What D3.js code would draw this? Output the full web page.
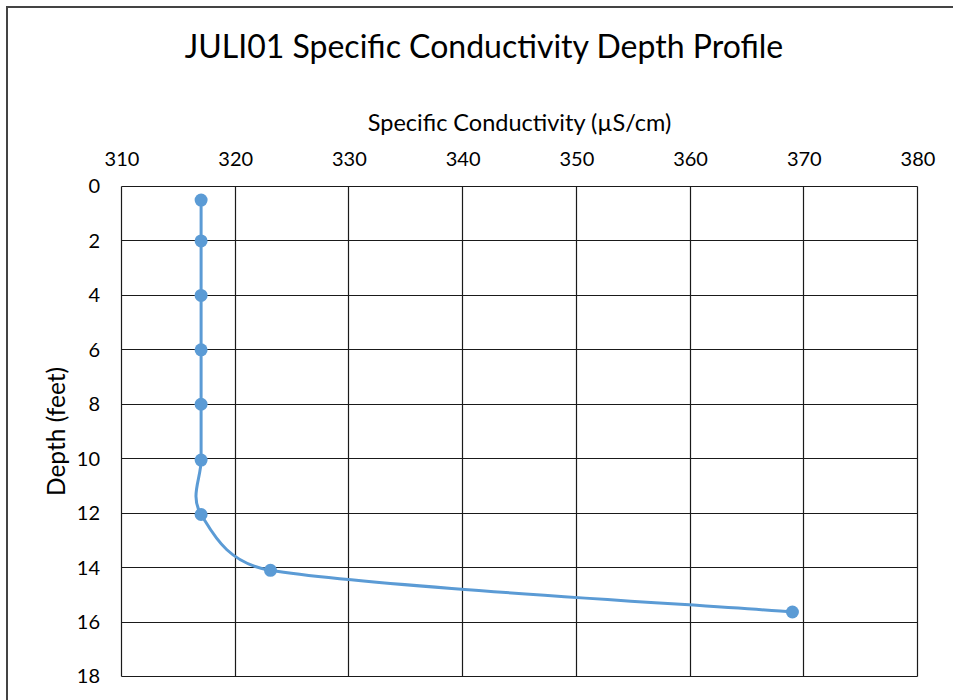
<!DOCTYPE html>
<html>
<head>
<meta charset="utf-8">
<script src="https://cdn.jsdelivr.net/npm/d3@7"></script>
<style>
  body { margin: 0; background: #fff; }
  svg { display: block; font-family: Lato, "Open Sans", sans-serif; }
  .chart-title { font-size: 32px; fill: #000; }
  .axis-title { font-size: 23.5px; fill: #000; }
  .tick-label { font-size: 20px; fill: #000; }
</style>
</head>
<body>
<div id="chart"></div>
<script>
(function () {

  // data
  const conductivity = [317, 317, 317, 317, 317, 317, 317, 323.1, 369];
  const depth = [0.5, 2, 4, 6, 8, 10.05, 12.05, 14.1, 15.63];
  const xTicks = [310, 320, 330, 340, 350, 360, 370, 380];
  const yTicks = [0, 2, 4, 6, 8, 10, 12, 14, 16, 18];

  const chartTitle = "JULI01 Specific Conductivity Depth Profile";
  const xTitle = "Specific Conductivity (µS/cm)";
  const yTitle = "Depth (feet)";

  // chart settings
  const svg_width = 953;
  const svg_height = 700;
  const margin = { top: 186.5, left: 121.5 },
    width = 796,
    height = 490;
  const blue = "#5b9bd5";

  const x = d3.scaleLinear().domain([310, 380]).range([0, width]);
  const y = d3.scaleLinear().domain([0, 18]).range([0, height]);

  const points = conductivity.map((c, i) => ({ c: c, d: depth[i] }));

  const root = d3.select("#chart").append("svg")
    .attr("width", svg_width)
    .attr("height", svg_height);

  // outer chart frame (cropped at right and bottom)
  root.append("rect")
    .attr("x", 7).attr("y", 7)
    .attr("width", 1000).attr("height", 1000)
    .attr("fill", "none")
    .attr("stroke", "#444")
    .attr("stroke-width", 2);

  root.append("text")
    .attr("class", "chart-title")
    .attr("x", 484).attr("y", 58)
    .attr("text-anchor", "middle")
    .text(chartTitle);

  const svg = root.append("g")
    .attr("transform", "translate(" + margin.left + "," + margin.top + ")");

  // gridlines
  svg.selectAll(".vgrid")
    .data(xTicks)
    .enter().append("line")
    .attr("x1", d => Math.round(x(d))).attr("x2", d => Math.round(x(d)))
    .attr("y1", 0).attr("y2", height)
    .attr("stroke", "#1a1a1a").attr("stroke-width", 1.2);

  svg.selectAll(".hgrid")
    .data(yTicks)
    .enter().append("line")
    .attr("y1", d => Math.round(y(d))).attr("y2", d => Math.round(y(d)))
    .attr("x1", 0).attr("x2", width)
    .attr("stroke", "#1a1a1a").attr("stroke-width", 1.2);

  // x axis on top
  const xAxis = svg.append("g")
    .call(d3.axisTop(x).tickValues(xTicks).tickSize(0).tickPadding(20.5));
  xAxis.select(".domain").remove();
  xAxis.selectAll("text")
    .attr("class", "tick-label")
    .style("font-family", "Lato, sans-serif")
    .attr("fill", "#000");

  // y axis
  const yAxis = svg.append("g")
    .call(d3.axisLeft(y).tickValues(yTicks).tickSize(0).tickPadding(21.5));
  yAxis.select(".domain").remove();
  yAxis.selectAll("text")
    .attr("class", "tick-label")
    .style("font-family", "Lato, sans-serif")
    .attr("fill", "#000");

  // axis titles
  svg.append("text")
    .attr("class", "axis-title")
    .attr("x", width / 2).attr("y", -55.5)
    .attr("text-anchor", "middle")
    .text(xTitle);

  svg.append("text")
    .attr("class", "axis-title")
    .style("font-size", "24.5px")
    .attr("transform", "translate(-57," + (height / 2) + ") rotate(-90)")
    .attr("text-anchor", "middle")
    .text(yTitle);

  // Excel-style smoothed line: bezier with 1/6 tangents,
  // control distance capped at half the segment length
  function excelSmooth(pts) {
    const p = d3.path();
    const n = pts.length;
    const dist = (a, b) => Math.hypot(b[0] - a[0], b[1] - a[1]);
    function ctrl(i, dir) {
      const prev = pts[Math.max(i - 1, 0)];
      const next = pts[Math.min(i + 1, n - 1)];
      const t = [next[0] - prev[0], next[1] - prev[1]];
      const tl = Math.hypot(t[0], t[1]);
      if (tl === 0) return pts[i];
      const seg = dir > 0 ? dist(pts[i], next) : dist(prev, pts[i]);
      const len = Math.min(tl / 6, seg / 2);
      return [pts[i][0] + dir * t[0] / tl * len, pts[i][1] + dir * t[1] / tl * len];
    }
    p.moveTo(pts[0][0], pts[0][1]);
    for (let i = 0; i < n - 1; i++) {
      const c1 = ctrl(i, 1), c2 = ctrl(i + 1, -1);
      p.bezierCurveTo(c1[0], c1[1], c2[0], c2[1], pts[i + 1][0], pts[i + 1][1]);
    }
    return p.toString();
  }

  svg.append("path")
    .datum(points)
    .attr("fill", "none")
    .attr("stroke", blue)
    .attr("stroke-width", 3)
    .attr("d", d => excelSmooth(d.map(e => [x(e.c), y(e.d)])));

  svg.selectAll(".dot")
    .data(points)
    .enter().append("circle")
    .attr("cx", d => x(d.c))
    .attr("cy", d => y(d.d))
    .attr("r", 6.5)
    .attr("fill", blue);

})();
</script>
</body>
</html>
